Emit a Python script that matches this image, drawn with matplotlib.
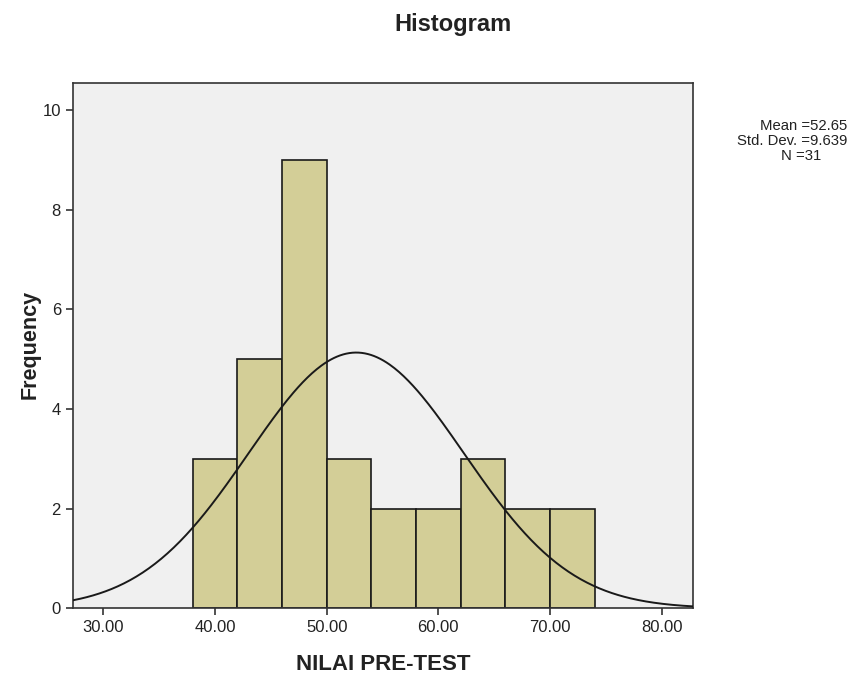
import numpy as np
import matplotlib.pyplot as plt

# data
bin_edges = [38, 42, 46, 50, 54, 58, 62, 66, 70, 74]
counts = [3, 5, 9, 3, 2, 2, 3, 2, 2]
mean = 52.65
std = 9.639
n = 31
xticks = [30, 40, 50, 60, 70, 80]
yticks = [0, 2, 4, 6, 8, 10]

plt.rcParams['font.family'] = ['Liberation Sans', 'DejaVu Sans']
txt = '#222222'
W, H = 868, 677

fig = plt.figure(figsize=(8.68, 6.77), dpi=100)
ax = fig.add_axes([0.0838, 0.1015, 0.798 - 0.0838, 0.878 - 0.1015])
ax.set_facecolor('#f0f0f0')

ax.bar(bin_edges[:-1], counts, width=np.diff(bin_edges), align='edge',
       color='#d3ce97', edgecolor='#1a1a1a', linewidth=1.2, zorder=2)

# normal curve scaled to counts
bw = bin_edges[1] - bin_edges[0]
xs = np.linspace(27.26, 82.78, 400)
ys = n * bw / (std * np.sqrt(2 * np.pi)) * np.exp(-0.5 * ((xs - mean) / std) ** 2)
ax.plot(xs, ys, color='#1a1a1a', linewidth=1.4, zorder=3)

ax.set_xlim(27.26, 82.78)
ax.set_ylim(0, 10.55)
ax.set_xticks(xticks)
ax.set_xticklabels([f'{v:.2f}' for v in xticks])
ax.set_yticks(yticks)
ax.tick_params(direction='out', length=5, width=1.2, colors='#333333',
               labelsize=12, labelcolor=txt)
for s in ax.spines.values():
    s.set_color('#333333')
    s.set_linewidth(1.2)

# labels placed in pixel terms to match the reference
fig.text(383.5 / W, 1 - 670 / H, 'NILAI PRE-TEST', ha='center', va='baseline',
         fontsize=16, fontweight='bold', color=txt)
fig.text(30 / W, 1 - 344 / H, 'Frequency', ha='center', va='center', rotation=90,
         fontsize=15.5, fontweight='bold', color=txt)
fig.text(453.5 / W, 1 - 31.5 / H, 'Histogram', ha='center', va='baseline',
         fontsize=17, fontweight='bold', color=txt)

fig.text(847 / W, 1 - 130 / H, f'Mean ={mean}', ha='right', va='baseline',
         fontsize=10.7, color=txt)
fig.text(847 / W, 1 - 145 / H, f'Std. Dev. ={std}', ha='right', va='baseline',
         fontsize=10.7, color=txt)
fig.text(801 / W, 1 - 160 / H, f'N ={n}', ha='center', va='baseline',
         fontsize=10.7, color=txt)

fig.savefig('out.png', dpi=100)
